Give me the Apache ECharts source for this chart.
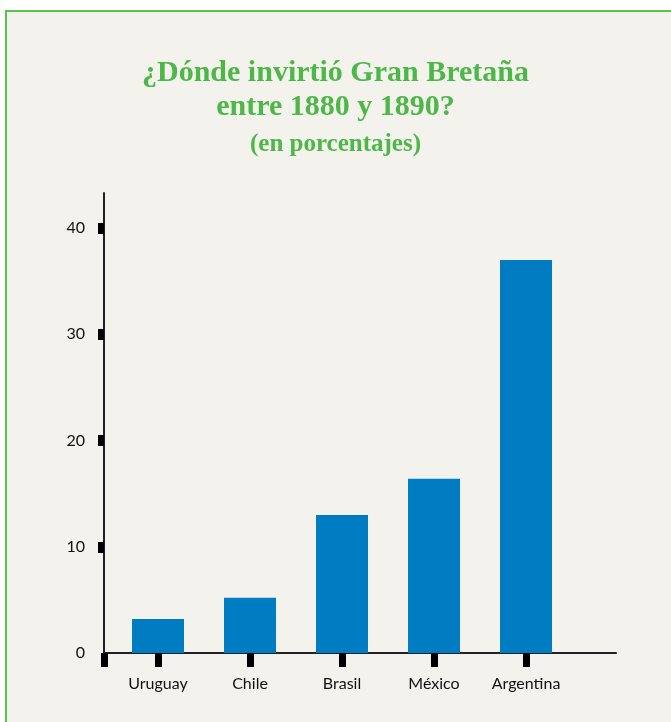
<!DOCTYPE html>
<html lang="es">
<head>
<meta charset="UTF-8">
<title>¿Dónde invirtió Gran Bretaña?</title>
<script src="https://cdn.jsdelivr.net/npm/echarts@6/dist/echarts.min.js"></script>
<style>
    body { margin: 0; background: #ffffff; }
    .marco {
        position: absolute; left: 5px; top: 10px; width: 700px; height: 740px;
        background: #f3f2ec; border: 2px solid #5cc04f;
    }
    #chart { position: absolute; left: 0; top: 0; width: 671px; height: 722px; }
</style>
</head>
<body>
<div class="marco"></div>
<div id="chart"></div>
<script>
    // datos
    const paises = ['Uruguay', 'Chile', 'Brasil', 'México', 'Argentina'];
    const porcentajes = [3.2, 5.2, 13.0, 16.4, 37.0];
    const marcasY = [0, 10, 20, 30, 40];

    const verde = '#4db748';
    const azul = '#007cc3';

    // eje x numérico para poder dejar el hueco a la derecha
    const xMin = -0.587, xMax = 4.978;

    const chart = echarts.init(document.getElementById('chart'));
    chart.setOption({
        backgroundColor: 'transparent',
        animation: false,
        title: {
            text: '¿Dónde invirtió Gran Bretaña\nentre 1880 y 1890?',
            subtext: '(en porcentajes)',
            left: 'center', top: 51, itemGap: 8,
            textStyle: { fontFamily: 'Liberation Serif', fontWeight: 'bold', fontSize: 30, color: verde, lineHeight: 34 },
            subtextStyle: { fontFamily: 'Liberation Serif', fontWeight: 'bold', fontSize: 25, color: verde }
        },
        grid: { left: 104, right: 55, top: 193, bottom: 69 },
        xAxis: {
            type: 'value', min: xMin, max: xMax,
            splitLine: { show: false },
            axisLine: { show: true, onZero: false, lineStyle: { color: '#222', width: 2 } },
            axisTick: { show: true, length: 14, customValues: [xMin, 0, 1, 2, 3, 4], lineStyle: { color: '#000', width: 7 } },
            axisLabel: {
                customValues: [0, 1, 2, 3, 4], margin: 23,
                formatter: v => paises[Math.round(v)],
                fontFamily: 'Lato', fontSize: 16, color: '#111'
            }
        },
        yAxis: {
            type: 'value', min: 0, max: 43.3,
            splitLine: { show: false },
            axisLine: { show: true, onZero: false, lineStyle: { color: '#222', width: 2 } },
            axisTick: { show: true, length: 6, customValues: marcasY.slice(1), lineStyle: { color: '#000', width: 11 } },
            axisLabel: { customValues: marcasY, margin: 19, fontFamily: 'Lato', fontSize: 16, color: '#111' }
        },
        series: [{
            type: 'bar',
            barWidth: 52,
            itemStyle: { color: azul },
            data: porcentajes.map((v, i) => [i, v])
        }]
    });
</script>
</body>
</html>
